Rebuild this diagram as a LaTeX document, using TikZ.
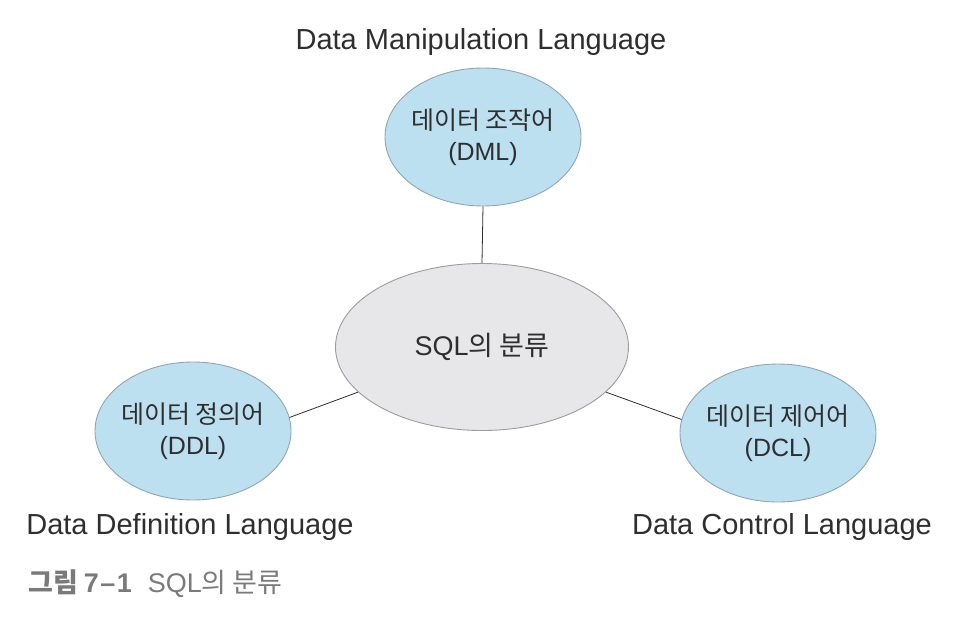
\documentclass[tikz,border=0pt]{standalone}
\usepackage{fontspec}
\setmainfont{Liberation Sans}
\newfontfamily\kr{Noto Sans CJK KR}
\usetikzlibrary{shapes.geometric}

\definecolor{bollablu}{HTML}{BDE0F1}
\definecolor{bordoblu}{HTML}{8FA6B2}
\definecolor{bollagrigia}{HTML}{E7E7E9}
\definecolor{bordogrigio}{HTML}{9C9C9C}
\definecolor{testo}{HTML}{2E2E2E}
\definecolor{didascalia}{HTML}{7A7A7A}

\begin{document}
\begin{tikzpicture}[x=1pt, y=-1pt,
  bolla/.style={ellipse, draw=bordoblu, fill=bollablu, line width=0.9pt,
    minimum width=196pt, minimum height=138pt, inner xsep=-20pt, inner ysep=0pt,
    align=center, text=testo, font=\fontsize{25}{34}\selectfont},
  centro/.style={bolla, draw=bordogrigio, fill=bollagrigia,
    minimum width=293pt, minimum height=167pt, font=\fontsize{27}{34}\selectfont},
  etichetta/.style={text=testo, font=\fontsize{29}{34}\selectfont, inner sep=0pt},
  linea/.style={draw=testo, line width=0.8pt}]
  \useasboundingbox (0,0) rectangle (972,619);

  %–– Bolle ––
  \node[centro] (sql) at (482,347) {SQL{\kr 의 분류}};
  \node[bolla] (dml) at (483,137) {{\kr 데이터 조작어}\\[-3pt](DML)};
  \node[bolla] (ddl) at (193,431) {{\kr 데이터 정의어}\\[-3pt](DDL)};
  \node[bolla] (dcl) at (778,433) {{\kr 데이터 제어어}\\[-3pt](DCL)};

  %–– Collegamenti ––
  \draw[linea] (dml.south) -- (sql.north);
  \draw[linea] (ddl.8) -- (sql.200);
  \draw[linea] (sql.340) -- (dcl.172);

  %–– Etichette ––
  \node[etichetta] (nomedml) at (481,42) {Data Manipulation Language};
  \node[etichetta] (nomeddl) at (190,527) {Data Definition Language};
  \node[etichetta] (nomedcl) at (782,527) {Data Control Language};

  %–– Didascalia ––
  \node[anchor=west, inner sep=0pt, text=didascalia,
    font=\fontsize{27}{30}\selectfont] (fig) at (28,584)
    {{\kr\bfseries 그림}\hspace{6pt}\textbf{7\kern1.5pt–\kern1.5pt1}\hspace{16pt}SQL{\kr 의 분류}};
\end{tikzpicture}
\end{document}
